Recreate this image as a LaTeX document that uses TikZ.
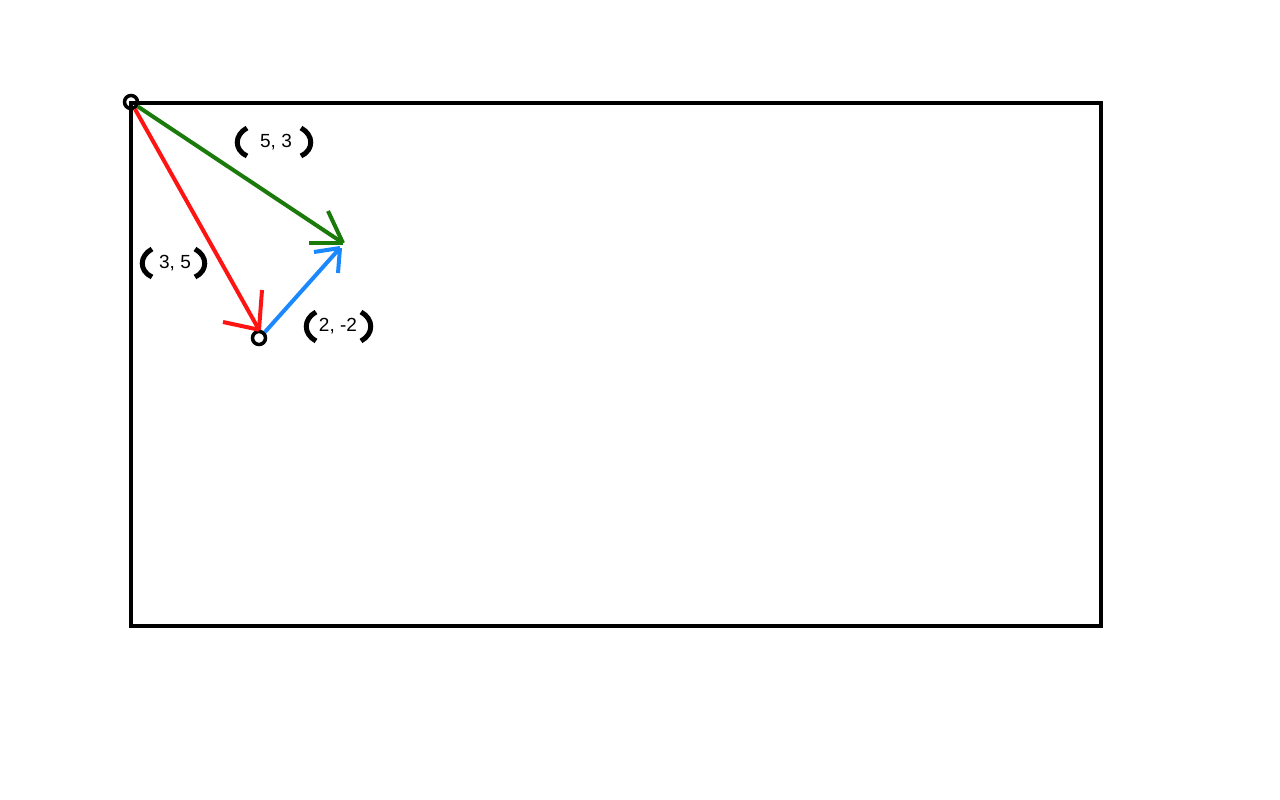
\documentclass[tikz,border=0pt]{standalone}
\usepackage{fontspec}
\setmainfont{Liberation Sans}
\begin{document}
\begin{tikzpicture}[x=1pt,y=-1pt,
  frame/.style={draw=black,line width=3.5pt},
  dot/.style={circle,draw=black,line width=3.5pt,minimum size=13pt,inner sep=0pt},
  vecred/.style={draw=vred,line width=4pt},
  vecgreen/.style={draw=vgreen,line width=4pt},
  vecblue/.style={draw=vblue,line width=4pt},
  paren/.style={draw=black,line width=5pt},
  lbl/.style={font=\fontsize{19}{21}\selectfont,inner sep=0pt}]
\definecolor{vred}{RGB}{255,20,20}
\definecolor{vgreen}{RGB}{26,122,10}
\definecolor{vblue}{RGB}{26,136,255}
\useasboundingbox (0,0) rectangle (1280,800);
\fill[white] (0,0) rectangle (1280,800);
\draw[frame] (131,103) rectangle (1101,626);
% points
\node[dot] (O) at (131,102) {};
\node[dot] (P) at (259,338) {};
\coordinate (T) at (343,243);
\coordinate (Tb) at (340,248);
% vectors
\draw[vecred] (O) -- (P.north);
\draw[vecred] (P.north) -- (262,290);
\draw[vecred] (P.north) -- (223,322);
\draw[vecgreen] (O) -- (T);
\draw[vecgreen] (T) -- (328,211);
\draw[vecgreen] (T) -- (309,243);
\draw[vecblue] (P.north east) -- (Tb);
\draw[vecblue] (Tb) -- (314,252);
\draw[vecblue] (Tb) -- (338,273);
% labels
\node[lbl] (l53) at (276,142) {5, 3};
\draw[paren] (247,128) .. controls (234,135) and (234,150) .. (247,156);
\draw[paren] (301,128) .. controls (314,135) and (314,150) .. (301,156);
\node[lbl] (l35) at (175,263) {3, 5};
\draw[paren] (152,249) .. controls (139,256) and (139,271) .. (152,277);
\draw[paren] (195,249) .. controls (208,256) and (208,271) .. (195,277);
\node[lbl] (l22) at (338,326) {2, -2};
\draw[paren] (316,312) .. controls (303,319) and (303,334) .. (316,341);
\draw[paren] (361,312) .. controls (374,319) and (374,334) .. (361,341);
\end{tikzpicture}
\end{document}
